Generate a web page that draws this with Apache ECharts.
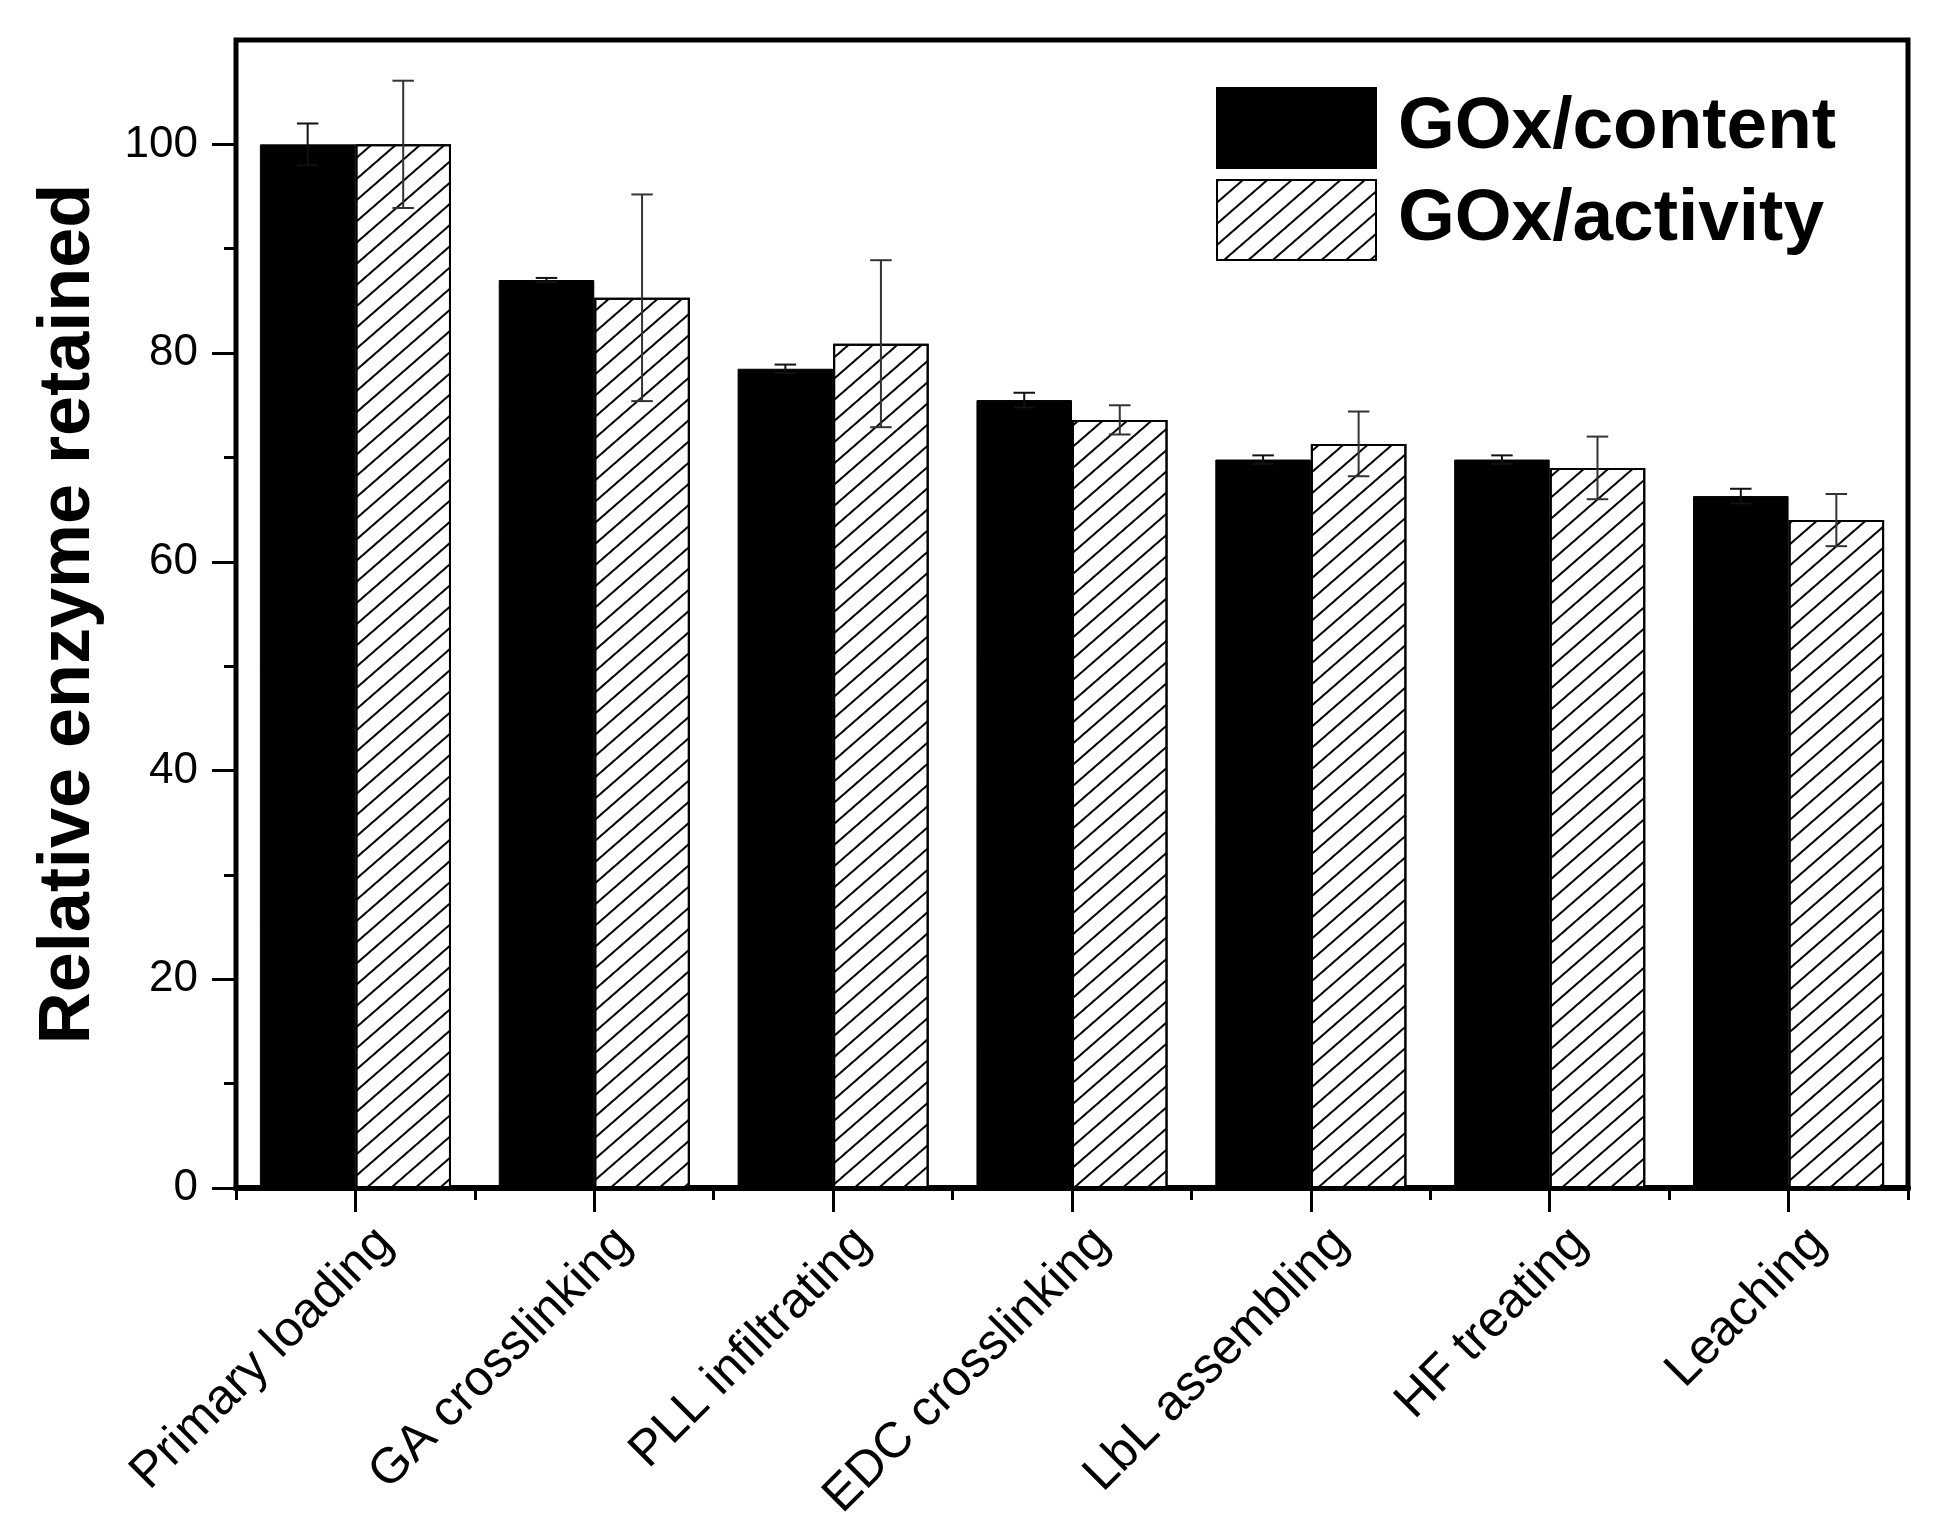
<!DOCTYPE html>
<html>
<head>
<meta charset="utf-8">
<script src="https://cdn.jsdelivr.net/npm/echarts@6/dist/echarts.min.js"></script>
<style>html,body{margin:0;padding:0;background:#fff;}#c{width:1951px;height:1536px;}</style>
</head>
<body>
<div id="c"></div>
<script>
var categories = ['Primary loading','GA crosslinking','PLL infiltrating','EDC crosslinking','LbL assembling','HF treating','Leaching'];
var contentValues = [100, 87.0, 78.5, 75.5, 69.8, 69.8, 66.3];
var contentErrors = [2.0, 0.2, 0.4, 0.7, 0.4, 0.4, 0.7];
var activityValues = [100, 85.3, 80.9, 73.6, 71.3, 69.0, 64.0];
var activityErrors = [6.1, 9.9, 8.0, 1.4, 3.1, 3.0, 2.5];
var yMajorTicks = [0, 20, 40, 60, 80, 100];
var yMinorTicks = [10, 30, 50, 70, 90];
var seriesNames = ['GOx/content', 'GOx/activity'];

var FONT = "'Liberation Sans', Arial, sans-serif";

function errData(vals, errs) {
  return vals.map(function (v, i) { return [i, v, errs[i]]; });
}
function errRender(offset, color) {
  return function (params, api) {
    var i = api.value(0), v = api.value(1), e = api.value(2);
    var band = api.size([1, 0])[0];
    var x = api.coord([i, v])[0] + offset * band;
    var top = api.coord([i, v + e])[1];
    var bot = api.coord([i, v - e])[1];
    var hw = band * 0.045;
    var st = { stroke: color, lineWidth: 2 };
    return {
      type: 'group',
      children: [
        { type: 'line', shape: { x1: x, y1: top, x2: x, y2: bot }, style: st },
        { type: 'line', shape: { x1: x - hw, y1: top, x2: x + hw, y2: top }, style: st },
        { type: 'line', shape: { x1: x - hw, y1: bot, x2: x + hw, y2: bot }, style: st }
      ]
    };
  };
}

var chart = echarts.init(document.getElementById('c'), null, { renderer: 'canvas' });
chart.setOption({
  backgroundColor: '#ffffff',
  animation: false,
  textStyle: { fontFamily: FONT },
  grid: {
    left: 236, right: 43, top: 40, bottom: 348,
    show: true, borderColor: '#000', borderWidth: 5, backgroundColor: 'transparent'
  },
  legend: {
    orient: 'vertical',
    left: 1216, top: 87,
    padding: 0,
    itemWidth: 159, itemHeight: 80, itemGap: 10,
    icon: 'rect',
    data: seriesNames,
    textStyle: {
      fontFamily: FONT, fontSize: 73, fontWeight: 'bold', color: '#000',
      lineHeight: 80, padding: [0, 0, 0, 17]
    }
  },
  xAxis: [
    {
      type: 'category', data: categories, position: 'bottom',
      axisLine: { show: true, lineStyle: { color: '#000', width: 6 } },
      axisTick: { show: true, alignWithLabel: true, length: 24, lineStyle: { color: '#000', width: 3 } },
      axisLabel: {
        interval: 0, rotate: 45, margin: 18, fontSize: 50, color: '#000', fontFamily: FONT,
        lineHeight: 50, verticalAlign: 'top', padding: [17, 0, 0, 0]
      },
      splitLine: { show: false }
    },
    {
      type: 'category', data: categories, position: 'bottom',
      axisLine: { show: false },
      axisTick: { show: true, length: 12, lineStyle: { color: '#000', width: 3 } },
      axisLabel: { show: false },
      splitLine: { show: false }
    }
  ],
  yAxis: [
    {
      type: 'value', min: 0, max: 110, position: 'left',
      name: 'Relative enzyme retained', nameLocation: 'middle', nameGap: 131,
      nameTextStyle: { fontSize: 72, fontWeight: 'bold', color: '#000', fontFamily: FONT },
      axisLine: { show: true, lineStyle: { color: '#000', width: 4 } },
      axisTick: { show: true, length: 24, customValues: yMajorTicks, lineStyle: { color: '#000', width: 3 } },
      axisLabel: { show: true, customValues: yMajorTicks, margin: 38, fontSize: 44, color: '#000', fontFamily: FONT },
      splitLine: { show: false }
    },
    {
      type: 'value', min: 0, max: 110, position: 'left',
      axisLine: { show: false },
      axisTick: { show: true, length: 12, customValues: yMinorTicks, lineStyle: { color: '#000', width: 3 } },
      axisLabel: { show: false, customValues: yMinorTicks },
      splitLine: { show: false }
    }
  ],
  series: [
    {
      name: seriesNames[0], type: 'bar', xAxisIndex: 0, yAxisIndex: 0,
      data: contentValues, barGap: '0%', barCategoryGap: '20%',
      itemStyle: { color: '#000', borderColor: '#000', borderWidth: 1 }
    },
    {
      name: seriesNames[1], type: 'bar', xAxisIndex: 0, yAxisIndex: 0,
      data: activityValues, barGap: '0%', barCategoryGap: '20%',
      itemStyle: {
        color: '#fff', borderColor: '#000', borderWidth: 2,
        decal: {
          symbol: 'rect', symbolSize: 1, color: '#000',
          dashArrayX: [1, 0], dashArrayY: [2, 14],
          rotation: -Math.PI * 41 / 180
        }
      }
    },
    {
      type: 'custom', xAxisIndex: 0, yAxisIndex: 0, z: 5,
      data: errData(contentValues, contentErrors), renderItem: errRender(-0.2, '#111'),
      silent: true
    },
    {
      type: 'custom', xAxisIndex: 0, yAxisIndex: 0, z: 5,
      data: errData(activityValues, activityErrors), renderItem: errRender(0.2, '#333'),
      silent: true
    }
  ]
});
</script>
</body>
</html>
